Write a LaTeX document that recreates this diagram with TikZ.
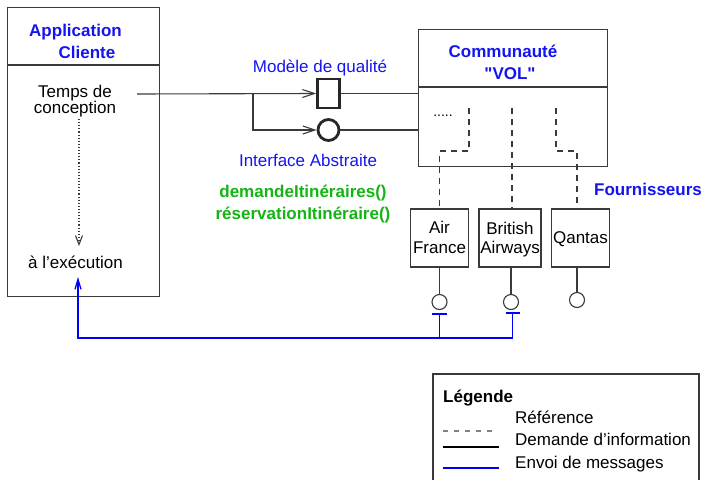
\documentclass[tikz,border=0pt]{standalone}
\usepackage{fontspec}
\setmainfont{Liberation Sans}[Ligatures=ResetAll]
\usetikzlibrary{arrows.meta}
\definecolor{ln}{HTML}{3A3A3A}
\definecolor{txtblue}{RGB}{20,20,240}
\definecolor{txtgreen}{RGB}{20,180,20}
\newcommand{\straightdq}{\XeTeXglyph\XeTeXcharglyph"22\relax}
\tikzset{
  box/.style={draw=ln, line width=1.1pt, inner sep=0pt},
  lbl/.style={inner sep=0pt, anchor=base, font=\fontsize{17}{20}\selectfont},
  ttl/.style={lbl, text=txtblue, font=\fontsize{17}{20}\selectfont\bfseries},
  meth/.style={lbl, text=txtgreen, font=\fontsize{17}{20}\selectfont\bfseries},
  info/.style={draw=ln, line width=1.1pt},
  refl/.style={draw=ln, line width=1.1pt, dash pattern=on 6pt off 5pt},
  msg/.style={draw=blue, line width=1.3pt},
  thick box/.style={draw=black!85, line width=2.8pt, inner sep=0pt, fill=white},
  port/.style={draw=ln, line width=1.1pt, circle, minimum size=15pt, inner sep=0pt, fill=white},
  barb/.style={-{Straight Barb[length=12pt,width=8pt]}},
}
\begin{document}
\begin{tikzpicture}[x=1pt,y=-1pt]
\useasboundingbox (0,0) rectangle (703,479);
% client application
\node[box, minimum width=152pt, minimum height=289pt, anchor=north west] (client) at (7,7) {};
\coordinate (cdivl) at (7,65);
\coordinate (cdivr) at (159,65);
\draw[info] (cdivl) -- (cdivr);
\node[ttl] (app1) at (75.5,36) {Application};
\node[ttl] (app2) at (87,58) {Cliente};
\node[lbl] (temps1) at (75,97) {Temps de};
\node[lbl] (temps2) at (75,113) {conception};
\node[lbl] (exec) at (75.5,268) {à l’exécution};
\coordinate (dtop) at (79,119);
\coordinate (dbot) at (79,246);
\draw[ln, line width=1.1pt, dotted, -{Straight Barb[length=9pt,width=7pt]}] (dtop) -- (dbot);

% quality model / abstract interface
\node[thick box, minimum width=22pt, minimum height=29pt] (sq) at (328.5,93.5) {};
\node[thick box, circle, minimum size=21pt] (ci) at (328.5,130) {};
\node[lbl, text=txtblue] (modele) at (320,72) {Modèle de qualité};
\node[lbl, text=txtblue] (iface) at (308,166) {Interface Abstraite};
\node[meth] (m1) at (303,197) {demandeItinéraires()};
\node[meth] (m2) at (303,219) {réservationItinéraire()};

% community
\node[box, minimum width=189pt, minimum height=137pt, anchor=north west] (comm) at (418,29) {};
\coordinate (vdivl) at (418,87);
\coordinate (vdivr) at (607,87);
\draw[info] (vdivl) -- (vdivr);
\node[ttl] (comm1) at (503,57) {Communauté};
\node[ttl] (comm2) at (510,79) {\straightdq VOL\straightdq};
\node[lbl, font=\fontsize{14}{16}\selectfont] (dots) at (443,116) {.....};

% connectors from client
\coordinate (tc) at (137,94);
\coordinate (br) at (253,94);
\draw[info, barb] (tc) -- (sq.west);
\draw[info, barb] (br) |- (ci.west);
\draw[info] (sq.east) -- (sq.east -| comm.west);
\draw[info] (ci.east) -- (ci.east -| comm.west);

% suppliers
\node[box, minimum width=58pt, minimum height=58pt] (af) at (439.5,238) {};
\node[box, minimum width=62pt, minimum height=58pt] (ba) at (510,238) {};
\node[box, minimum width=58pt, minimum height=58pt] (qa) at (580.5,238) {};
\node[lbl] (af1) at (439.5,233) {Air};
\node[lbl] (af2) at (439.5,253) {France};
\node[lbl] (ba1) at (510,234) {British};
\node[lbl] (ba2) at (510,253) {Airways};
\node[lbl] (qa1) at (580.5,243) {Qantas};
\node[ttl] (four) at (648,195) {Fournisseurs};

% reference dashed lines
\coordinate (r1) at (469,108);
\coordinate (r1b) at (469,151);
\coordinate (r2) at (512,108);
\coordinate (r3) at (556,108);
\coordinate (r3b) at (556,151);
\draw[refl] (r1) -- (r1b) -| (af.north);
\draw[refl] (r2) -- (r2 |- ba.north);
\draw[refl] (r3) -- (r3b) -| ([xshift=-3.5pt]qa.north);

% ports
\node[port] (afp) at (439.5,302) {};
\node[port] (bap) at (511,302) {};
\node[port] (qap) at (577,300) {};
\draw[info] (af.south) -- (afp.north);
\draw[info] (bap.north |- ba.south) -- (bap.north);
\draw[info] ([xshift=-3.5pt]qa.south) -- (qap.north);

% messages
\coordinate (tAF) at (439.5,314);
\coordinate (tBA) at (512.5,313);
\coordinate (mc) at (78,338);
\coordinate (ex) at (78,277);
\draw[msg] ([xshift=-7.5pt]tAF) -- ([xshift=7.5pt]tAF);
\draw[msg] ([xshift=-7pt]tBA) -- ([xshift=7pt]tBA);
\draw[msg] (tAF) -- (tAF |- mc);
\draw[msg, -{Straight Barb[length=10pt,width=6pt]}] (tBA) |- (mc) -- (ex);

% legend
\coordinate (lg1) at (433,482);
\coordinate (lg2) at (433,374);
\coordinate (lg3) at (699,374);
\coordinate (lg4) at (699,482);
\draw[draw=ln, line width=1.1pt] (lg1) -- (lg2) -- (lg3) -- (lg4);
\node[lbl, anchor=base west, font=\fontsize{17}{20}\selectfont\bfseries] (leg) at (443,402) {Légende};
\coordinate (la1) at (443,431);
\coordinate (la2) at (496,431);
\coordinate (lb1) at (443,447);
\coordinate (lb2) at (499,447);
\coordinate (lc1) at (443,468);
\coordinate (lc2) at (499,468);
\draw[draw=gray, line width=1.1pt, dash pattern=on 5pt off 6pt] (la1) -- (la2);
\draw[draw=black, line width=1.1pt] (lb1) -- (lb2);
\draw[draw=blue, line width=1.1pt] (lc1) -- (lc2);
\node[lbl, anchor=base west] (lt1) at (515,423) {Référence};
\node[lbl, anchor=base west] (lt2) at (515,445) {Demande d’information};
\node[lbl, anchor=base west] (lt3) at (515,468) {Envoi de messages};
\end{tikzpicture}
\end{document}
